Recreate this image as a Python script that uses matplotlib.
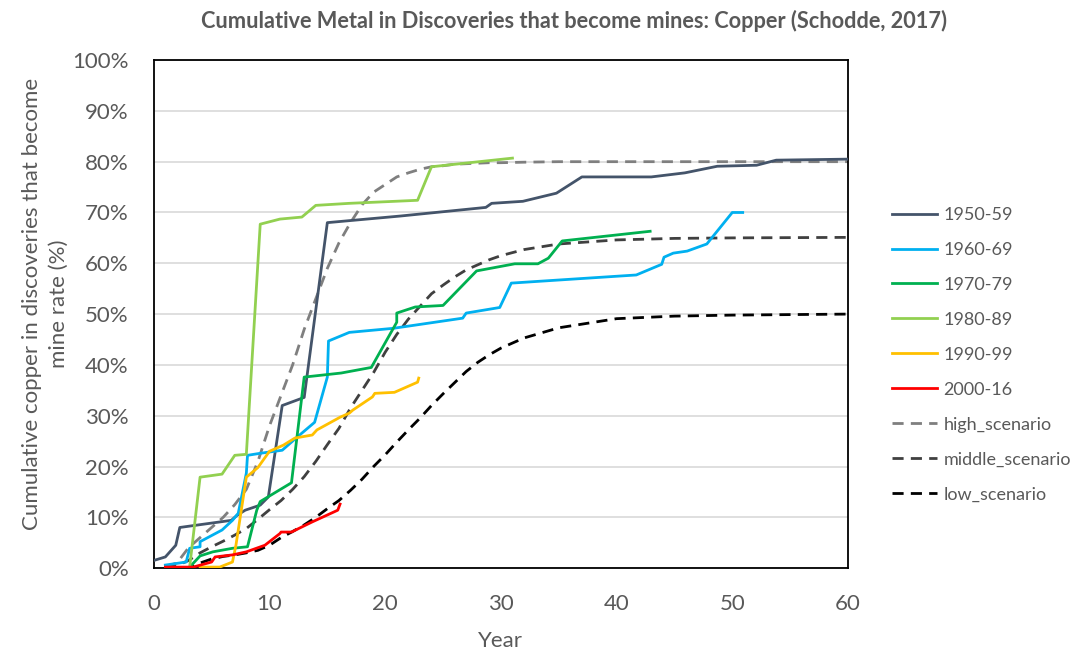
import matplotlib
matplotlib.use("Agg")
import matplotlib.pyplot as plt
from matplotlib.ticker import PercentFormatter

plt.rcParams["font.family"] = ["Lato", "DejaVu Sans"]

TEXT = "#595959"

# decade cohorts: years after discovery vs cumulative share (%) that became mines
yr_1950 = [0, 1, 1.9, 2.25, 6.7, 7.2, 7.9, 9.2, 9.9, 11.1, 13.0, 15.0, 21.3, 28.7, 29.2,
           31.9, 34.8, 37.0, 43.0, 45.9, 48.7, 52.1, 53.8, 60]
pct_1950 = [1.5, 2.2, 4.5, 8.0, 9.4, 10.4, 11.4, 12.4, 14.0, 32.0, 33.6, 68.0, 69.3, 71.0, 71.8,
            72.2, 73.8, 77.0, 77.0, 77.8, 79.1, 79.3, 80.3, 80.5]

yr_1960 = [1.0, 2.8, 3.1, 4.0, 4.0, 5.9, 6.8, 7.3, 8.0, 8.1, 9.2, 11.1, 12.4, 13.9, 15.0,
           15.1, 16.9, 20.7, 26.7, 27.0, 29.9, 30.9, 41.7, 43.9, 44.1, 44.9, 46.1, 47.8, 50.0, 50.9]
pct_1960 = [0.6, 1.2, 3.9, 4.2, 5.2, 7.5, 9.4, 10.8, 18.7, 22.2, 22.6, 23.2, 25.8, 28.7, 37.6,
            44.7, 46.4, 47.2, 49.2, 50.2, 51.3, 56.1, 57.7, 59.8, 61.2, 62.0, 62.4, 63.8, 70.0, 70.0]

yr_1970 = [3.1, 4.0, 5.1, 6.8, 8.1, 8.9, 9.2, 11.9, 13.0, 16.2, 18.8, 21.0, 21.0, 22.6, 25.0,
           27.9, 31.2, 33.2, 34.1, 35.3, 42.9]
pct_1970 = [0.2, 2.4, 3.2, 3.9, 4.2, 11.4, 13.1, 16.8, 37.6, 38.4, 39.5, 48.4, 50.2, 51.4, 51.7,
            58.5, 59.9, 59.9, 61.0, 64.4, 66.3]

yr_1980 = [3.1, 4.0, 5.9, 7.0, 8.0, 9.2, 10.9, 12.8, 14.0, 16.9, 22.8, 24.0, 31.0]
pct_1980 = [0.2, 17.9, 18.5, 22.2, 22.4, 67.7, 68.7, 69.1, 71.4, 71.8, 72.4, 79.0, 80.7]

yr_1990 = [4.0, 5.7, 6.8, 7.1, 8.0, 9.0, 10.0, 11.2, 12.2, 13.7, 14.1, 16.1, 16.9, 17.2,
           18.9, 19.1, 20.8, 22.8, 22.9]
pct_1990 = [0.2, 0.2, 1.2, 4.5, 17.9, 19.8, 23.0, 24.2, 25.6, 26.2, 27.2, 29.7, 30.5, 31.1,
            33.7, 34.4, 34.6, 36.6, 37.4]

yr_2000 = [1.0, 3.4, 5.0, 5.3, 6.8, 8.0, 9.6, 10.9, 11.0, 11.9, 13.7, 15.9, 16.1]
pct_2000 = [0.2, 0.2, 1.2, 2.2, 2.6, 3.2, 4.5, 6.8, 7.1, 7.1, 9.1, 11.4, 12.6]

# scenario curves
sc_years = [1, 2, 3, 4, 5, 6, 7, 8, 9, 10, 11, 12, 13, 14, 15, 16, 17, 18, 19, 20,
            21, 22, 23, 24, 25, 26, 27, 28, 29, 30, 32, 35, 40, 45, 50, 60]
high = [0.3, 1.0, 4.0, 6.0, 8.0, 10.0, 12.5, 15.5, 21.0, 28.0, 34.0, 40.0, 47.0, 53.0, 59.0,
        64.0, 68.0, 71.5, 74.0, 75.5, 77.0, 77.8, 78.5, 79.0, 79.2, 79.5, 79.6, 79.7, 79.8, 79.8,
        79.9, 80.0, 80.0, 80.0, 80.0, 80.0]
middle = [0.0, 0.5, 1.5, 3.0, 4.2, 5.3, 6.5, 7.8, 9.6, 11.5, 13.3, 15.5, 18.0, 21.0, 24.3,
          27.5, 31.5, 35.0, 38.5, 42.5, 46.0, 49.0, 51.5, 54.0, 55.7, 57.3, 58.7, 59.7, 60.7, 61.5,
          62.7, 63.8, 64.6, 64.9, 65.0, 65.1]
low = [0.0, 0.0, 0.0, 1.0, 1.8, 2.3, 2.6, 3.0, 3.5, 4.5, 6.0, 7.2, 8.5, 10.0, 11.7,
       13.3, 15.3, 17.5, 20.0, 22.3, 24.8, 27.2, 29.5, 32.0, 34.3, 36.5, 38.7, 40.5, 42.0, 43.3,
       45.3, 47.3, 49.1, 49.6, 49.8, 50.0]

cohorts = [
    ("1950-59", yr_1950, pct_1950, "#44546A"),
    ("1960-69", yr_1960, pct_1960, "#00B0F0"),
    ("1970-79", yr_1970, pct_1970, "#00B050"),
    ("1980-89", yr_1980, pct_1980, "#92D050"),
    ("1990-99", yr_1990, pct_1990, "#FFC000"),
    ("2000-16", yr_2000, pct_2000, "#FF0000"),
]
scenarios = [
    ("high_scenario", high, "#7F7F7F"),
    ("middle_scenario", middle, "#404040"),
    ("low_scenario", low, "#000000"),
]

fig = plt.figure(figsize=(10.83, 6.53), dpi=100)
ax = fig.add_axes([0.142, 0.130, 0.641, 0.778])

for name, x, y, c in cohorts:
    ax.plot(x, y, color=c, lw=2.0, label=name, zorder=3)
for name, y, c in scenarios:
    ax.plot(sc_years, y, color=c, lw=2.0, ls=(0, (4, 2.6)), label=name, zorder=2)

ax.set_xlim(0, 60)
ax.set_ylim(0, 100)
ax.set_xticks(range(0, 61, 10))
ax.set_yticks(range(0, 101, 10))
ax.yaxis.set_major_formatter(PercentFormatter(decimals=0))
ax.grid(axis="y", color="#D9D9D9", lw=1.2, zorder=0)
ax.tick_params(length=0, labelsize=16, colors=TEXT)
ax.tick_params(axis="x", pad=19)
ax.tick_params(axis="y", pad=18)
for s in ax.spines.values():
    s.set_color("black")
    s.set_linewidth(1.3)

ax.set_xlabel("Year", fontsize=16, color=TEXT, labelpad=12)
ax.set_ylabel("Cumulative copper in discoveries that become\nmine rate (%)",
              fontsize=16, color=TEXT, linespacing=1.45)
ax.yaxis.set_label_coords(-0.122, 0.52)
fig.suptitle("Cumulative Metal in Discoveries that become mines: Copper (Schodde, 2017)",
             x=0.53, y=0.985, fontsize=15.7, fontweight="bold", color=TEXT)

leg = ax.legend(loc="center left", bbox_to_anchor=(1.04, 0.42), frameon=False,
                fontsize=13, handlelength=2.5, labelspacing=1.05, handletextpad=0.35)
for t in leg.get_texts():
    t.set_color(TEXT)

fig.savefig("out.png", dpi=100)
